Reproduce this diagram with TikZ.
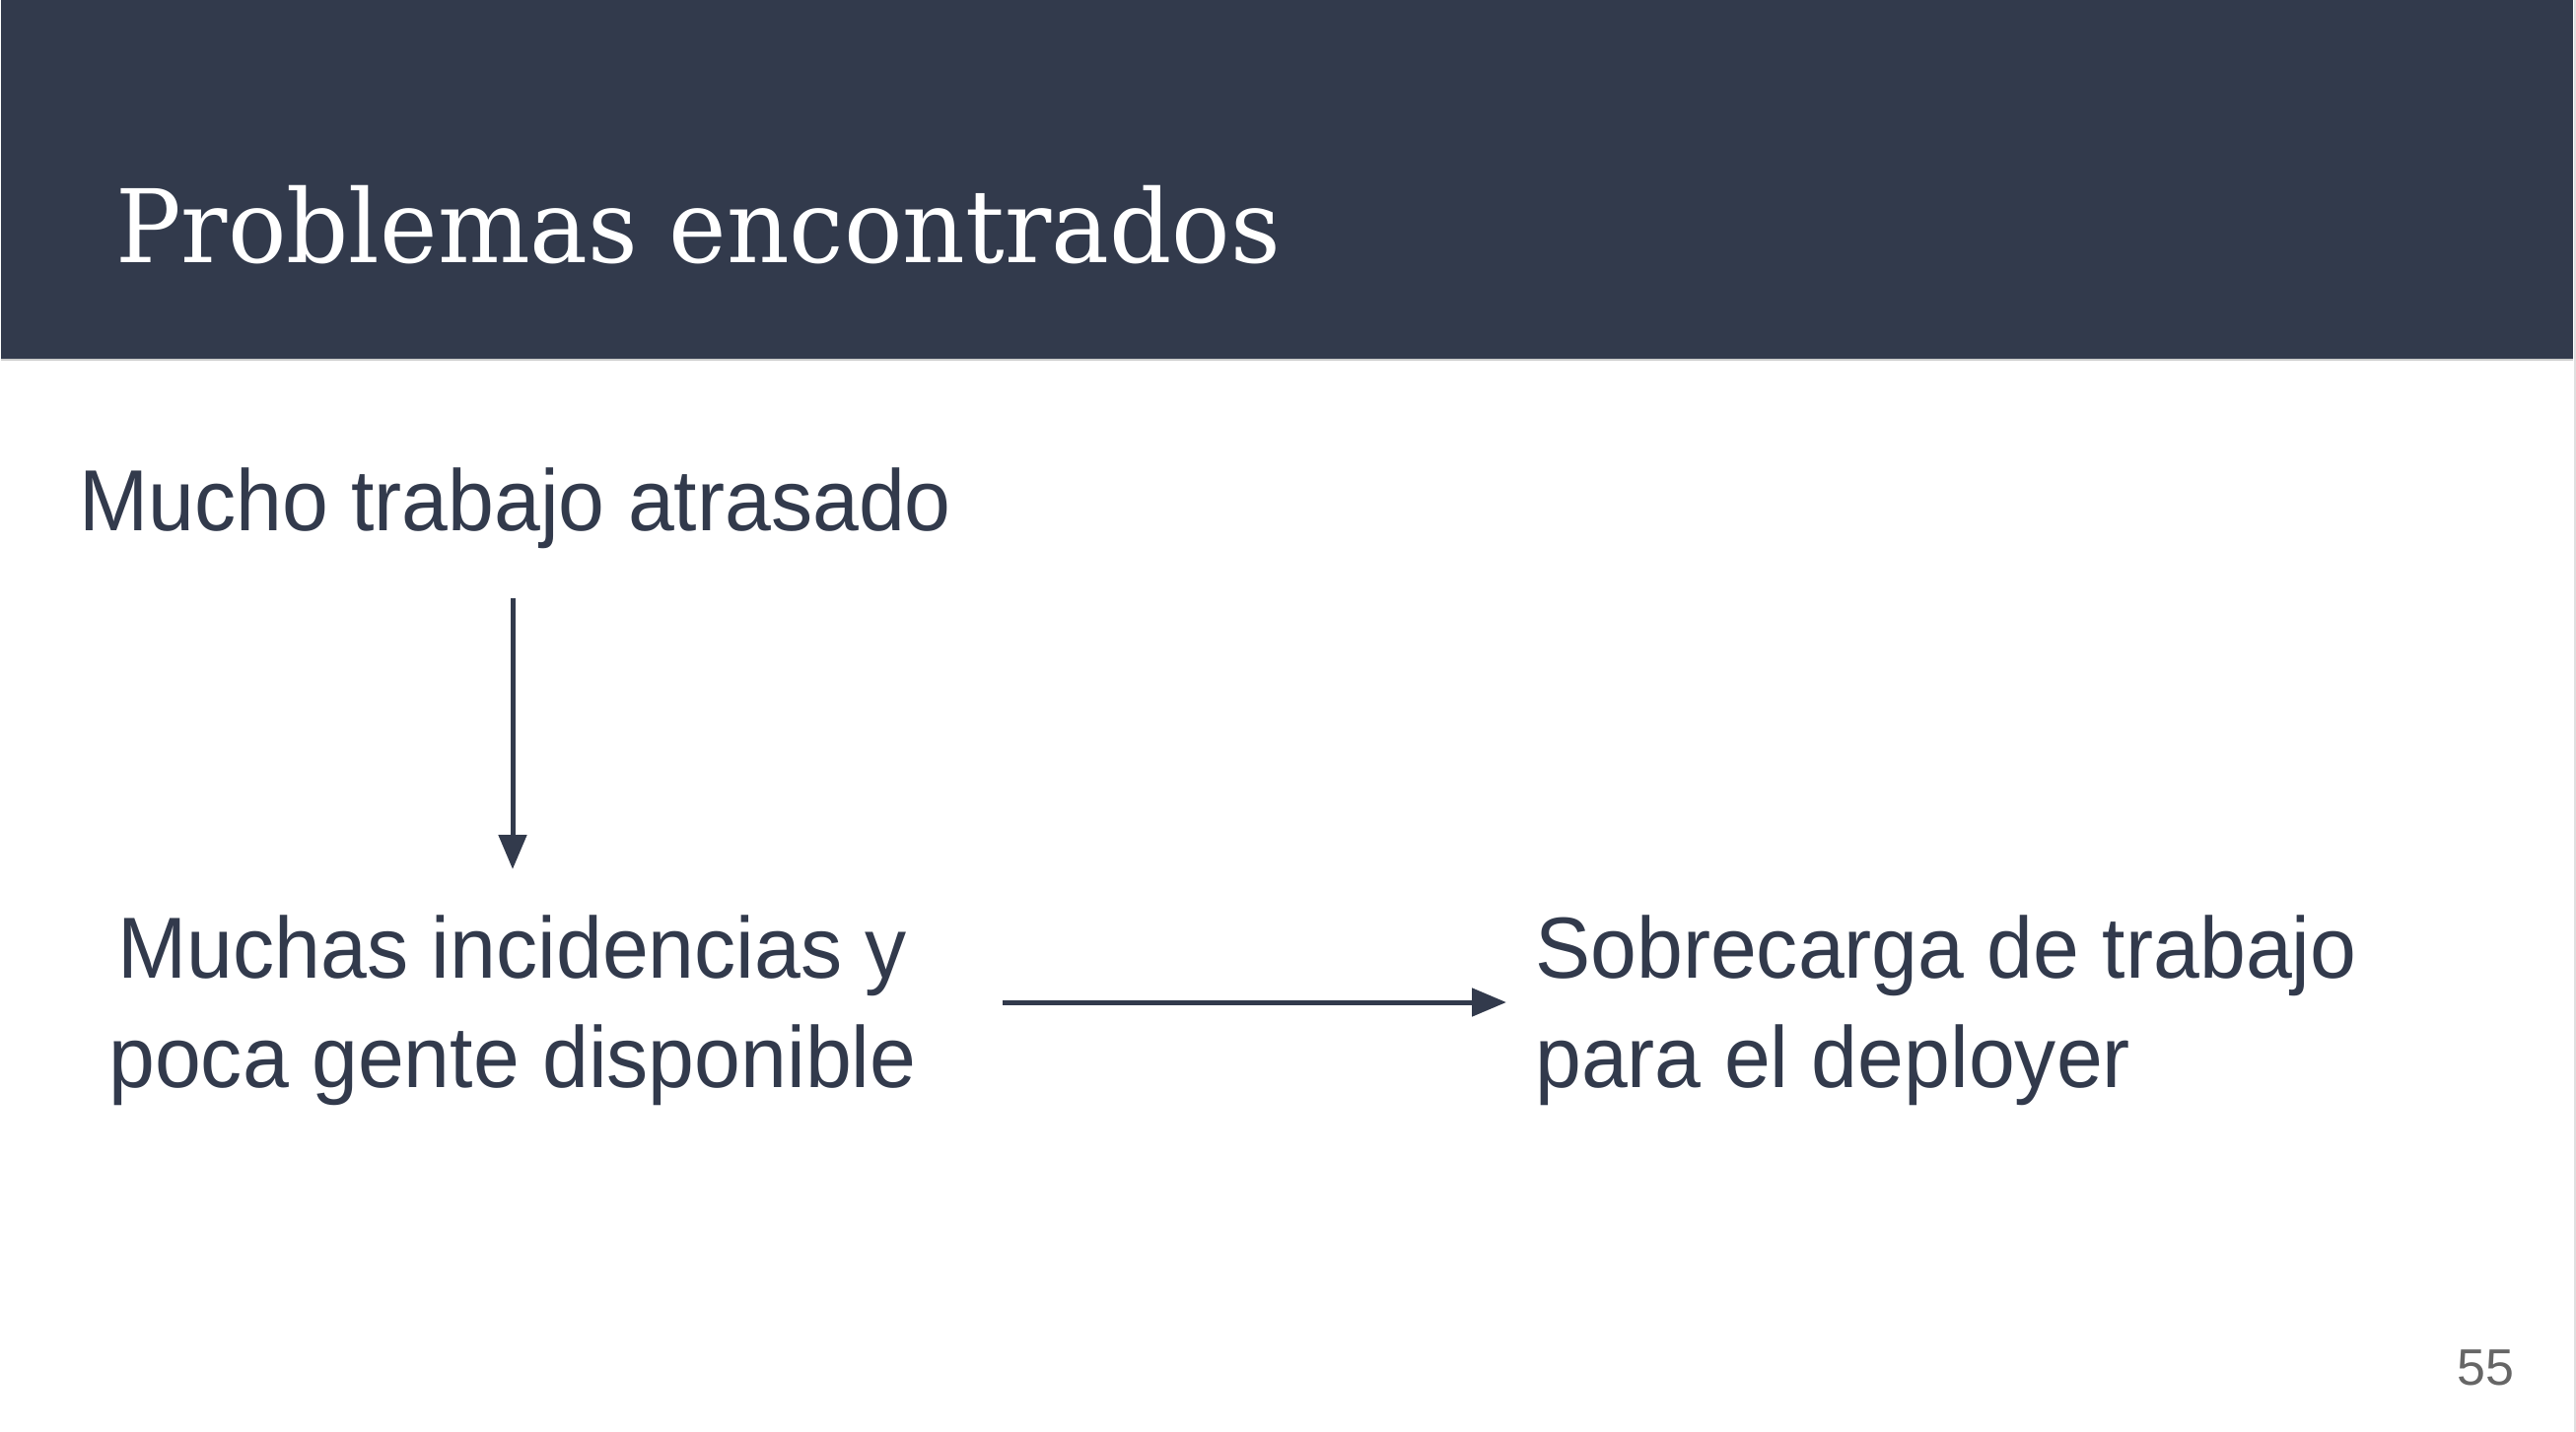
\documentclass[tikz,border=0pt]{standalone}
\usepackage{fontspec}
\setmainfont{Liberation Sans}
\newfontfamily\bodyfont[FakeStretch=0.957]{Liberation Sans}
\newfontfamily\titlefont[FakeStretch=0.96]{DejaVu Serif}
\usetikzlibrary{arrows.meta}
\definecolor{hdr}{HTML}{323A4C}
\definecolor{ink}{HTML}{323A4C}
\definecolor{pgnum}{HTML}{666666}
\tikzset{
  bodytext/.style={inner sep=0pt, text=ink, font=\bodyfont\fontsize{88}{111}\selectfont},
  arr/.style={draw=ink, line width=5pt, -{Triangle[length=35pt,width=28pt]}},
}
\begin{document}
\begin{tikzpicture}[x=1pt,y=-1pt]
\useasboundingbox (0,0) rectangle (2613,1453);
\fill[white] (0,0) rectangle (2613,1453);
\fill[hdr] (1,0) rectangle (2610,364);
\draw[gray!40, line width=2pt] (1,365) -- (2610,365);
\draw[gray!25, line width=2pt] (2611.5,0) -- (2611.5,1453);
\node[anchor=base west, inner sep=0pt, text=white, font=\titlefont\fontsize{103}{115}\selectfont] (title) at (117,266) {Problemas encontrados};
\node[bodytext, anchor=base west] (mucho) at (80,538) {Mucho trabajo atrasado};
\node[bodytext, anchor=base, align=center] (muchas) at (520,1103) {Muchas incidencias y\\poca gente disponible};
\node[bodytext, anchor=base west, align=left] (sobre) at (1557,1103) {Sobrecarga de trabajo\\para el deployer};
\coordinate (v1) at (520,607);
\coordinate (v2) at (520,882);
\coordinate (h1) at (1017,1017);
\coordinate (h2) at (1528,1017);
\draw[arr] (v1) -- (v2);
\draw[arr] (h1) -- (h2);
\node[anchor=base east, inner sep=0pt, text=pgnum, font=\fontsize{52}{60}\selectfont] (pg) at (2551,1405) {55};
\end{tikzpicture}
\end{document}
